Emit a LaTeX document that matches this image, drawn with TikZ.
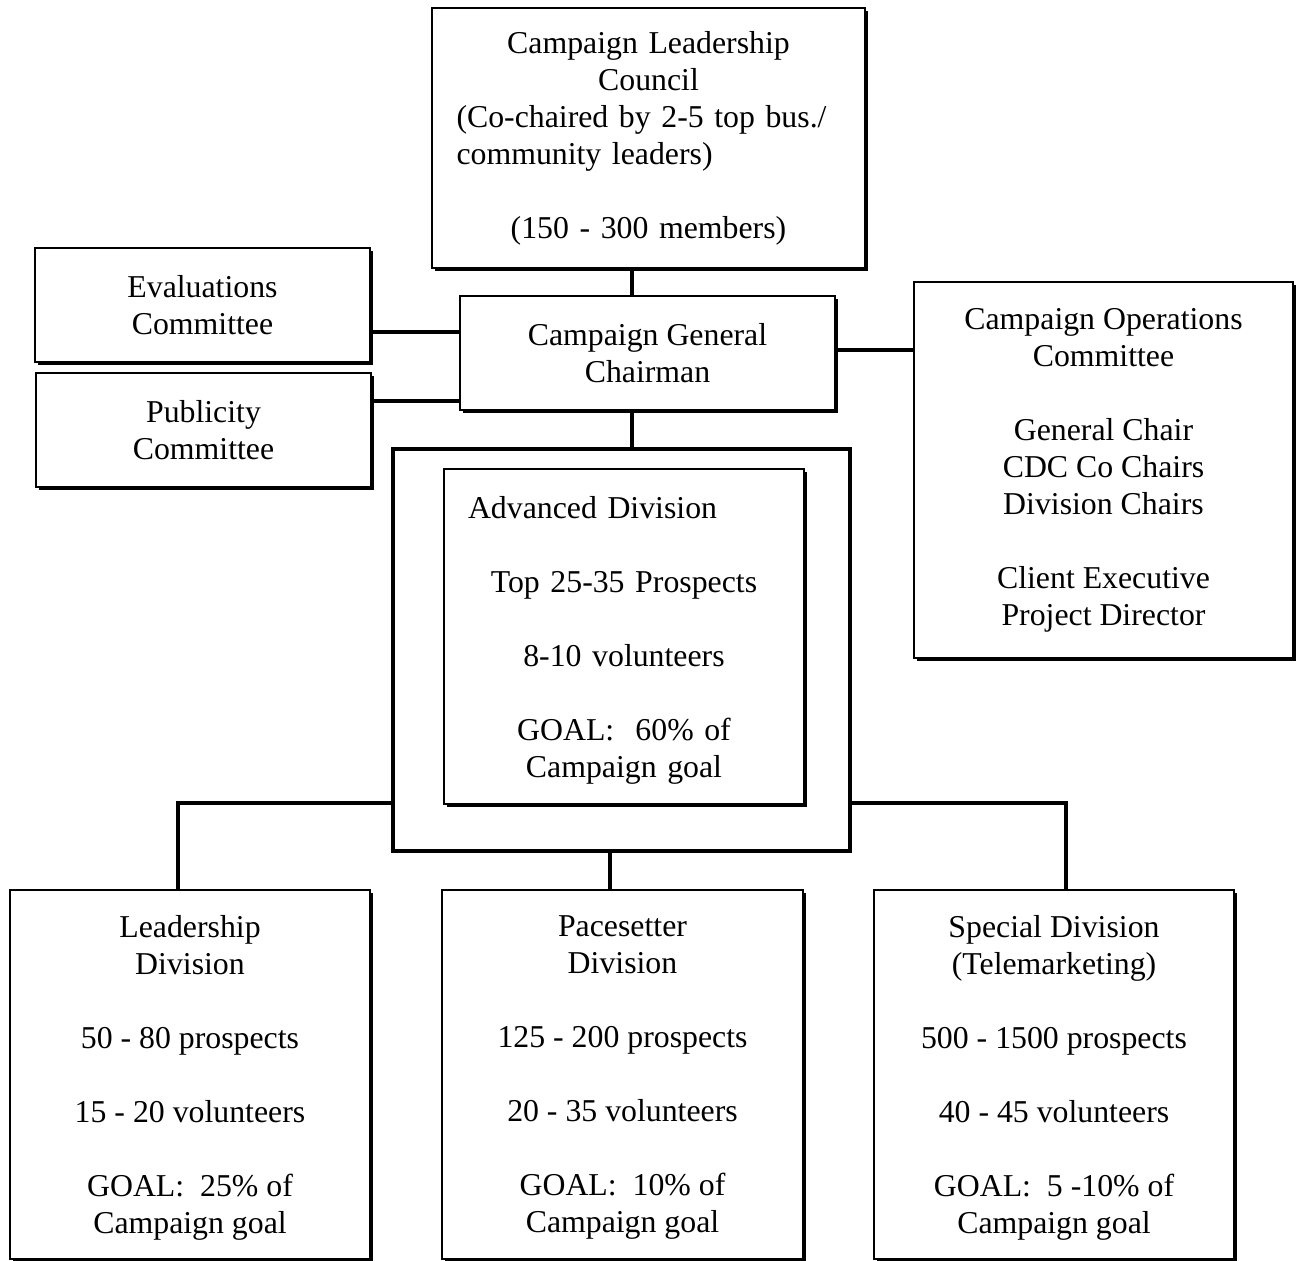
\documentclass[tikz,border=0pt]{standalone}
\usepackage{fontspec}
\setmainfont{Liberation Serif}
\usepackage{tikz}
\usetikzlibrary{shadows}
\setlength{\parindent}{0pt}

\begin{document}
\begin{tikzpicture}[x=0.5pt, y=-0.5pt, every node/.style={font=\fontsize{15.9}{18.5}\selectfont},
	orgbox/.style={draw, fill=white, line width=1.1pt, align=center, inner sep=2pt,
		drop shadow={shadow xshift=1.5pt, shadow yshift=-1.5pt, fill=black, opacity=1}},
	divbox/.style={orgbox, minimum width=180pt, minimum height=184.5pt, text depth=-3pt},
	link/.style={line width=1.6pt}]
				\useasboundingbox (0,0) rectangle (1297,1261);
				\clip (0,0) rectangle (1297,1261);
				\node [orgbox, minimum width=216.5pt, minimum height=130pt, text width=192pt] (council) at (648.5,138)
					{{\centering Campaign Leadership\\ Council\par}{\raggedright (Co-chaired by 2-5 top bus./\\ community leaders)\par}{\centering\mbox{}\\ (150 - 300 members)\par}};
				\node [orgbox, minimum width=187.5pt, minimum height=57pt] (chair) at (647.5,353) {Campaign General\\ Chairman};
				\node [orgbox, minimum width=167.5pt, minimum height=57pt] (eval) at (202.5,305) {Evaluations\\ Committee};
				\node [orgbox, minimum width=167.5pt, minimum height=57pt] (pub) at (203.5,430) {Publicity\\ Committee};
				\node [orgbox, minimum width=189.5pt, minimum height=188pt] (ops) at (1103.5,470)
					{Campaign Operations\\ Committee\\[18.5pt] General Chair\\ CDC Co Chairs\\ Division Chairs\\[18.5pt] Client Executive\\ Project Director};
				\node [draw, line width=1.8pt, minimum width=228.5pt, minimum height=201pt] (advouter) at (621.5,650) {};
				\node [orgbox, minimum width=180pt, minimum height=167.5pt, text width=156pt, text height=14.5pt] (adv) at (624,636.5)
					{{\raggedright Advanced Division\par}{\centering\mbox{}\\ Top 25-35 Prospects\\[18.5pt] 8-10 volunteers\\[18.5pt] GOAL:~~60\% of\\ Campaign goal\par}};
				\node [divbox] (lead) at (190,1074.5)
					{Leadership\\ Division\\[18.5pt] 50 - 80 prospects\\[18.5pt] 15 - 20 volunteers\\[18.5pt] GOAL:~~25\% of\\ Campaign goal};
				\node [divbox, minimum width=180.5pt] (pace) at (622.5,1074.5)
					{Pacesetter\\ Division\\[18.5pt] 125 - 200 prospects\\[18.5pt] 20 - 35 volunteers\\[18.5pt] GOAL:~~10\% of\\ Campaign goal};
				\node [divbox] (spec) at (1054,1074.5)
					{Special Division\\ (Telemarketing)\\[18.5pt] 500 - 1500 prospects\\[18.5pt] 40 - 45 volunteers\\[18.5pt] GOAL:~~5 -10\% of\\ Campaign goal};
				\coordinate (spine) at (632,0);
				\coordinate (lfork) at (178,803);
				\coordinate (rfork) at (1066,803);
				\coordinate (mfork) at (610,0);
				\draw [link] (council.south -| spine) -- (chair.north -| spine);
				\draw [link] (chair.south -| spine) -- (advouter.north -| spine);
				\draw [link] ([yshift=-13.5pt]eval.east) -- ([yshift=-13.5pt]eval.east -| chair.west);
				\draw [link] ([yshift=14.5pt]pub.east) -- ([yshift=14.5pt]pub.east -| chair.west);
				\draw [link] ([yshift=1.5pt]chair.east) -- ([yshift=1.5pt]chair.east -| ops.west);
				\draw [link] (advouter.west |- lfork) -- (lfork) -- (lfork |- lead.north);
				\draw [link] (advouter.east |- rfork) -- (rfork) -- (rfork |- spec.north);
				\draw [link] (advouter.south -| mfork) -- (mfork |- pace.north);
			\end{tikzpicture}
\end{document}
